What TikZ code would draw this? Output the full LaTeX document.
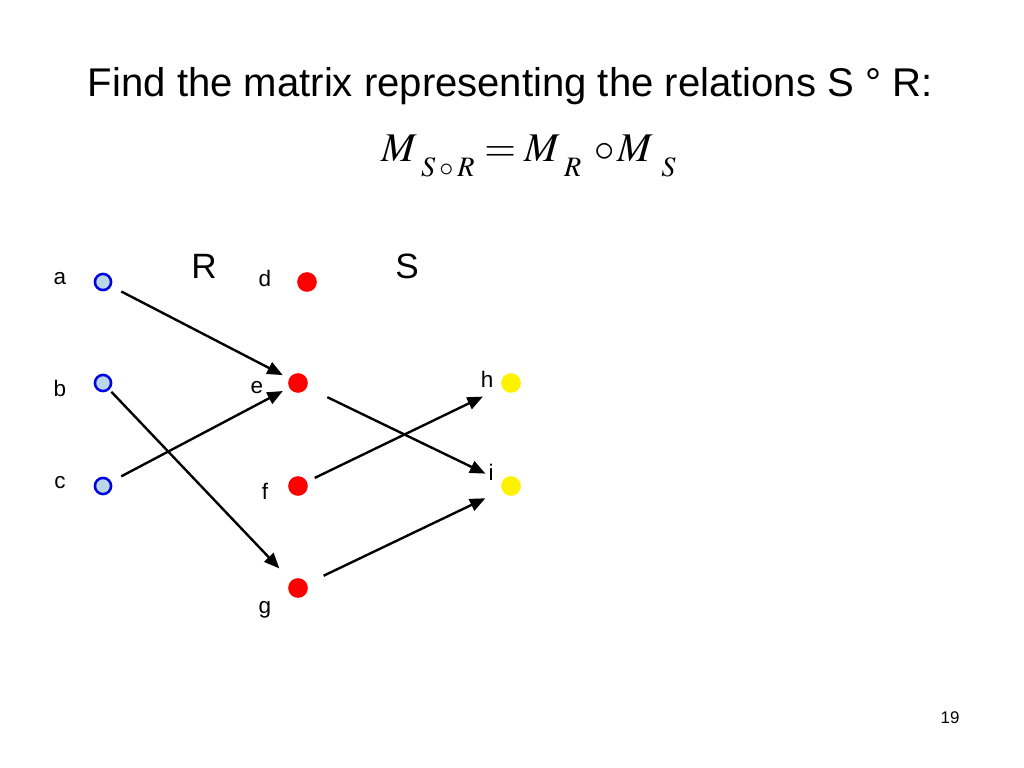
\documentclass[tikz,border=0pt]{standalone}
\usepackage{mathptmx}
\usepackage{fontspec}
\setmainfont{Liberation Sans}
\usepackage{tikz}
\usetikzlibrary{arrows.meta, positioning}

\definecolor{dotblue}{RGB}{0,0,230}
\definecolor{dotfill}{RGB}{184,216,230}

% matrix letter with a low subscript
\newcommand{\msub}[2][3pt]{$M$\kern#1\lower10.5pt\hbox{\fontsize{20}{20}\selectfont$#2$}}

\begin{document}
\begin{tikzpicture}[
  x=0.025cm, y=-0.025cm,
  pta/.style={circle, draw=dotblue, line width=1.8pt, fill=dotfill, inner sep=0pt, minimum size=11.5pt},
  ptb/.style={circle, fill=red, inner sep=0pt, minimum size=14pt},
  ptc/.style={circle, fill=yellow, inner sep=0pt, minimum size=14pt},
  lbl/.style={font=\fontsize{16}{16}\selectfont},
  big/.style={font=\fontsize{25}{25}\selectfont},
  arr/.style={-{Triangle[length=11pt, width=9pt]}, line width=1.7pt}
]
\useasboundingbox (0,0) rectangle (1024,768);

\node[anchor=base west, font=\fontsize{28.5}{28.5}\selectfont] (title) at (83,97) {Find the matrix representing the relations S \textdegree{} R:};
\node[anchor=base west, inner sep=0pt, font=\fontsize{29}{29}\selectfont] (eqn) at (381,162)
  {\msub{S\circ R}\kern7pt$=$\kern6pt\msub{R}\kern9pt$\circ$\kern2pt\msub[6pt]{S}};

\node[pta] (a) at (103,282) {};
\node[pta] (b) at (103,383) {};
\node[pta] (c) at (103,486) {};
\node[ptb] (d) at (307,282) {};
\node[ptb] (e) at (298,383) {};
\node[ptb] (f) at (298,486) {};
\node[ptb] (g) at (298,588) {};
\node[ptc] (h) at (511,383) {};
\node[ptc] (i) at (511,486) {};

\node[lbl] (la) at (60,279) {a};
\node[lbl] (lb) at (60,388) {b};
\node[lbl] (lc) at (60,483) {c};
\node[lbl] (ld) at (265,278) {d};
\node[lbl] (le) at (257,388) {e};
\node[lbl] (lf) at (265,491) {f};
\node[lbl] (lg) at (265,610) {g};
\node[lbl] (lh) at (487,379) {h};
\node[lbl] (li) at (491,472) {i};

\node[big] (rr) at (204,266) {R};
\node[big] (ss) at (407,266) {S};

\draw[arr, shorten <=8pt, shorten >=5pt] (a) -- (e);
\draw[arr, shorten <=2pt, shorten >=12pt] (b) -- (g);
\draw[arr, shorten <=8pt, shorten >=5pt] (c) -- (e);
\draw[arr, shorten <=16pt, shorten >=13pt] (e) -- (i);
\draw[arr, shorten <=6pt, shorten >=15pt] (f) -- (h);
\draw[arr, shorten <=13pt, shorten >=13pt] (g) -- (i);

\node[lbl, font=\fontsize{12}{12}\selectfont] (pg) at (950,718) {19};
\end{tikzpicture}
\end{document}
